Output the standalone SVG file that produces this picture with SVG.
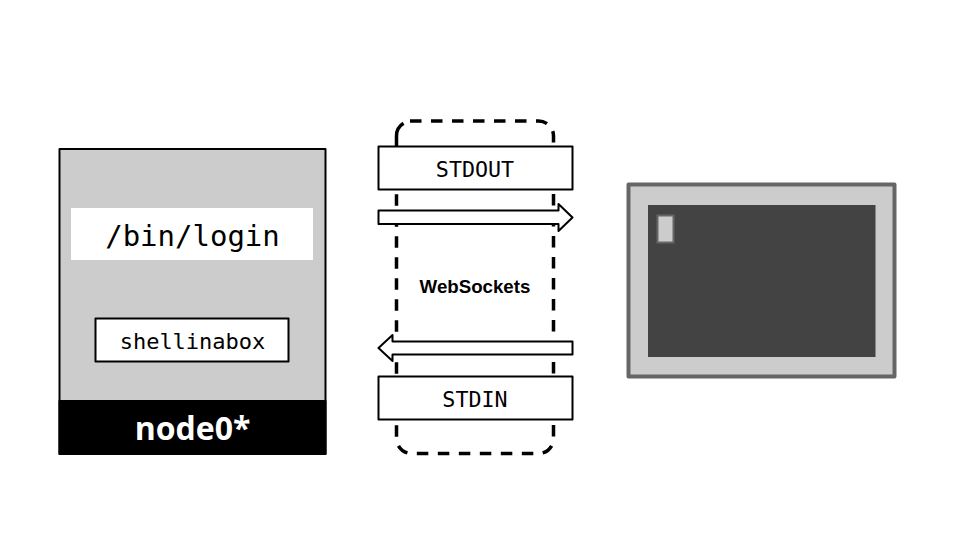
<svg xmlns="http://www.w3.org/2000/svg" width="960" height="540" viewBox="0 0 960 540">
<style>
.box{fill:#fff;stroke:#000;stroke-width:2;stroke-linejoin:round}
.mono{font-family:"DejaVu Sans Mono","Liberation Mono",monospace;fill:#000;text-anchor:middle}
.dash{fill:none;stroke:#000;stroke-width:3.500}
</style>
<rect width="960" height="540" fill="#fff"/>
<g id="websockets">
<path class="dash" stroke-dasharray="11.500 9.500" d="M410 121H538.500A15 15 0 0 1 553.500 136V438.500A15 15 0 0 1 538.500 453.500H411.500A15 15 0 0 1 396.500 438.500V146"/>
<path class="dash" d="M396.500 146V136A15 15 0 0 1 403.500 123.300"/>
<text x="475" y="293" font-family="'Liberation Sans',Arial,sans-serif" font-weight="700" font-size="18.700" text-anchor="middle" fill="#000">WebSockets</text>
</g>
<g id="node0">
<rect x="59.500" y="149" width="266" height="305" fill="#ccc" stroke="#000" stroke-width="2" stroke-linejoin="round"/>
<rect x="59.500" y="401" width="266" height="53" fill="#000" stroke="#000" stroke-width="2" stroke-linejoin="round"/>
<text x="192.500" y="440" font-family="'Open Sans','Noto Sans',sans-serif" font-weight="700" font-size="32" text-anchor="middle" fill="#fff">node0*</text>
</g>
<g id="login">
<rect x="71" y="208" width="242" height="52" fill="#fff"/>
<text class="mono" x="192.500" y="246" font-size="29">/bin/login</text>
</g>
<g id="shellinabox">
<rect class="box" x="95.500" y="318.500" width="193" height="43"/>
<text class="mono" x="192.500" y="349" font-size="22">shellinabox</text>
</g>
<g id="stdout">
<rect class="box" x="378.500" y="146.500" width="194" height="43"/>
<text class="mono" x="475" y="177" font-size="21.700">STDOUT</text>
</g>
<g id="stdin">
<rect class="box" x="378.500" y="376.500" width="194" height="43"/>
<text class="mono" x="475" y="407" font-size="21.700">STDIN</text>
</g>
<g id="connectors">
<path class="box" d="M378.500 210.500H558.500V204L572.500 217.500L558.500 231V224H378.500Z"/>
<path class="box" d="M572.500 341.500H392.500V335L378.500 348L392.500 361V354.500H572.500Z"/>
</g>
<g id="terminal">
<rect x="628.500" y="184.500" width="266" height="192" fill="#ccc" stroke="#666" stroke-width="4" stroke-linejoin="round"/>
<rect x="648" y="205" width="227.500" height="152" fill="#434343"/>
<rect x="657.500" y="215.500" width="16" height="27" fill="#ccc" stroke="#666" stroke-width="2"/>
</g>
</svg>
